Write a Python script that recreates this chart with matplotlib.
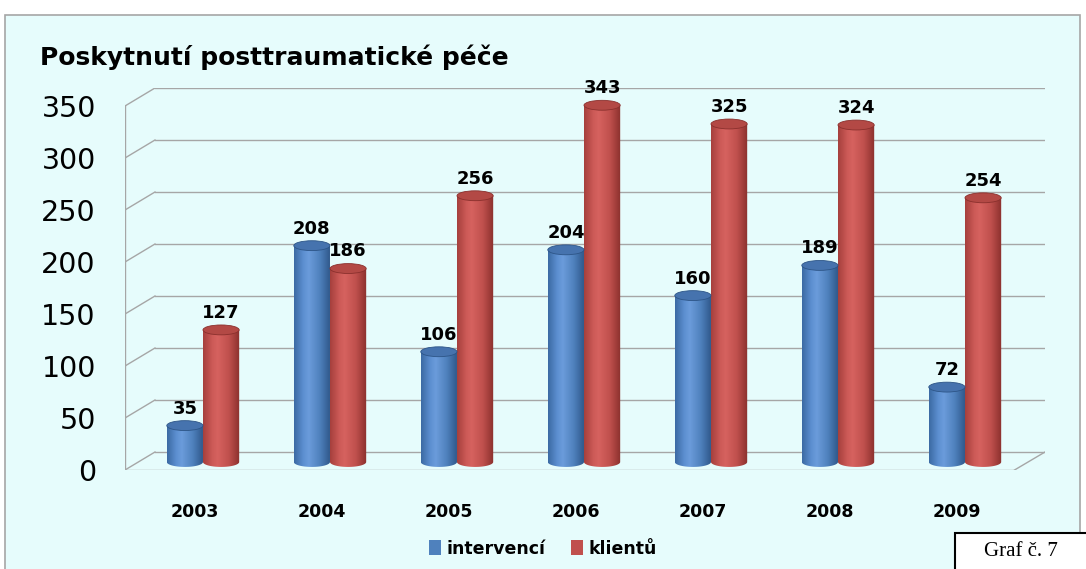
import numpy as np
import matplotlib.pyplot as plt
from matplotlib.patches import Ellipse, Patch, PathPatch, Rectangle
from matplotlib.path import Path
from matplotlib.colors import to_rgb

# Données
years = ['2003', '2004', '2005', '2006', '2007', '2008', '2009']
intervenci = [35, 208, 106, 204, 160, 189, 72]
klientu = [127, 186, 256, 343, 325, 324, 254]
yticks = [0, 50, 100, 150, 200, 250, 300, 350]

title = 'Poskytnutí posttraumatické péče'
series_names = ['intervencí', 'klientů']

# Couleurs (style Office)
blue_grad = ['#3B6AA3', '#5C8FD0', '#6B9CDB', '#4F81BD', '#2D5587']
red_grad = ['#A53F3C', '#CC5A57', '#D6625F', '#C0504D', '#8A302D']
blue_top = '#4673AE'
red_top = '#B34945'
bg = '#E6FCFC'
grid_col = '#A6A6A6'

# Géométrie pseudo-3D (en unités de données)
d_front = 7.7     # plan avant sous le plan des barres
d_back = 9.6      # mur du fond au-dessus
x_front_left, x_back_left = -0.614, -0.378
x_front_right, x_back_right = 6.39, 6.63
bar_w = 0.285
ell_h = 9.5

fig = plt.figure(figsize=(10.86, 5.69), dpi=100)
fig.patch.set_facecolor('white')
fig.patches.append(Rectangle((5 / 1086, -0.01), 1075 / 1086, (569 - 15) / 569 + 0.01,
                             transform=fig.transFigure, facecolor=bg,
                             edgecolor='#A6A6A6', lw=1.2, zorder=-2))

ax = fig.add_axes([125 / 1086, (569 - 470) / 569, 920 / 1086, 382 / 569])
ax.set_facecolor('none')
for s in ax.spines.values():
    s.set_visible(False)

# Mur du fond + mur gauche
for t in yticks:
    ax.plot([x_back_left, x_back_right], [t + d_back, t + d_back], color=grid_col, lw=1, zorder=1)
    ax.plot([x_front_left, x_back_left], [t - d_front, t + d_back], color=grid_col, lw=1, zorder=1)
ax.plot([x_front_left, x_front_left], [-d_front, yticks[-1] - d_front], color=grid_col, lw=1, zorder=1)
# Sol
ax.plot([x_front_left, x_front_right], [-d_front, -d_front], color=grid_col, lw=1, zorder=1)
ax.plot([x_front_right, x_back_right], [-d_front, d_back], color=grid_col, lw=1, zorder=1)


def cylinder(xc, v, grad, top):
    x0, x1 = xc - bar_w / 2, xc + bar_w / 2
    t = np.linspace(np.pi, 2 * np.pi, 40)
    pts = [(x0, v), (x0, 0)]
    pts += list(zip(xc + bar_w / 2 * np.cos(t), ell_h / 2 * np.sin(t)))
    pts += [(x1, 0), (x1, v), (x0, v)]
    clip = PathPatch(Path(pts), transform=ax.transData, facecolor='none', edgecolor='none')
    ax.add_patch(clip)
    cols = np.array([to_rgb(c) for c in grad])
    xs = np.linspace(0, 1, 200)
    pos = np.array([0, 0.25, 0.4, 0.7, 1.0])
    img = np.stack([np.interp(xs, pos, cols[:, k]) for k in range(3)], axis=-1)[None, :, :]
    im = ax.imshow(img, extent=(x0, x1, -ell_h / 2, v), aspect='auto',
                   interpolation='bilinear', zorder=2)
    im.set_clip_path(clip)
    ax.add_patch(Ellipse((xc, v), bar_w, ell_h, facecolor=top,
                         edgecolor=grad[-1], lw=0.6, zorder=3))


for i, (a, b) in enumerate(zip(intervenci, klientu)):
    xb, xr = i - bar_w / 2, i + bar_w / 2
    cylinder(xb, a, blue_grad, blue_top)
    cylinder(xr, b, red_grad, red_top)
    ax.text(xb, a + ell_h / 2 + 3, str(a), ha='center', va='bottom',
            fontsize=13, fontweight='bold', zorder=4)
    ax.text(xr, b + ell_h / 2 + 3, str(b), ha='center', va='bottom',
            fontsize=13, fontweight='bold', zorder=4)

ax.set_xlim(x_front_left, x_back_right)
ax.set_ylim(-d_front, 359.6)
ax.set_yticks([t - d_front for t in yticks], [str(t) for t in yticks], fontsize=20.5)
ax.set_xticks([i - 0.063 for i in range(len(years))], years, fontsize=12.5, fontweight='bold')
ax.tick_params(axis='y', length=0, pad=21)
ax.tick_params(axis='x', length=0, pad=24)

fig.text(40 / 1086, (569 - 57) / 569, title, fontsize=18, fontweight='bold',
         ha='left', va='center')

handles = [Patch(facecolor='#4F81BD'), Patch(facecolor='#C0504D')]
fig.legend(handles, series_names, loc='center', bbox_to_anchor=(0.5, 0.036), ncol=2,
           frameon=False, handlelength=0.7, handleheight=0.9, handletextpad=0.3,
           columnspacing=1.5, prop={'weight': 'bold', 'size': 12.5})

fig.patches.append(Rectangle((955 / 1086, -0.01), 0.2, (569 - 533) / 569 + 0.01,
                             transform=fig.transFigure, facecolor='white',
                             edgecolor='black', lw=1.5, zorder=5))
fig.text(1021 / 1086, (569 - 552) / 569, 'Graf č. 7', family='Liberation Serif',
         fontsize=15, ha='center', va='center', zorder=6)

fig.savefig('out.png', dpi=100)
